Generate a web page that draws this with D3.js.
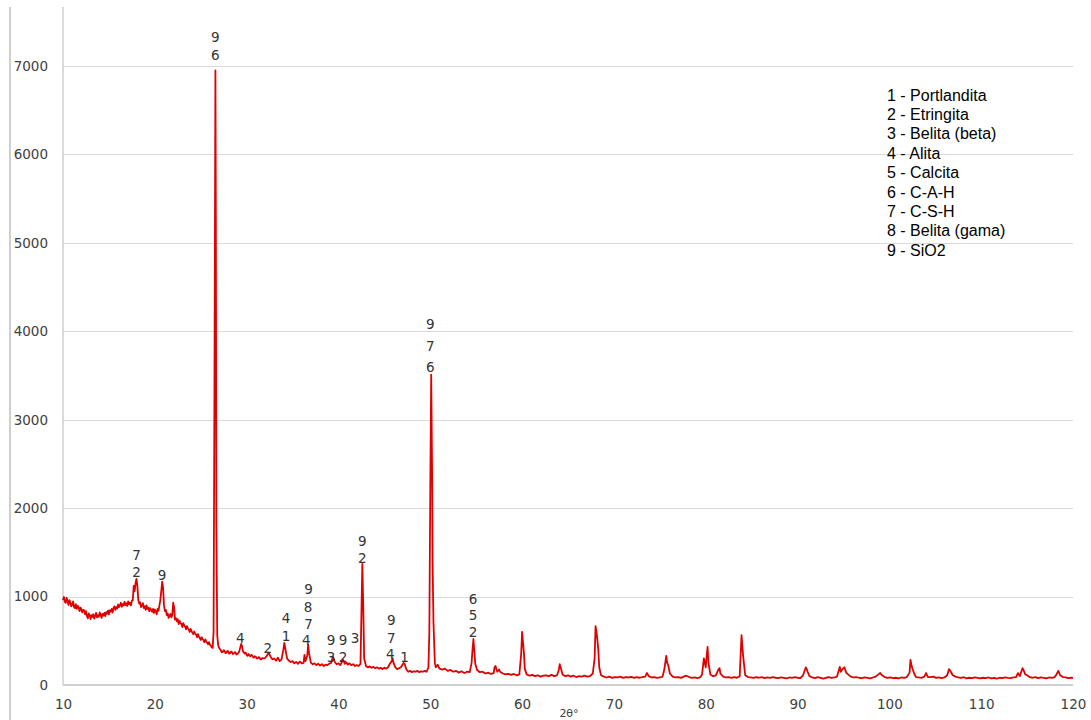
<!DOCTYPE html>
<html>
<head>
<meta charset="utf-8">
<script src="https://cdn.jsdelivr.net/npm/d3@7"></script>
<style>
html,body{margin:0;padding:0;background:#fff;}
svg{display:block;}
</style>
</head>
<body>
<svg id="chart" width="1091" height="720"></svg>
<script>
// ---- data ----
const xTicks = [10,20,30,40,50,60,70,80,90,100,110,120];
const yTicks = [0,1000,2000,3000,4000,5000,6000,7000];
const xTitle = "2θ°";
const legendItems = ["1 - Portlandita","2 - Etringita","3 - Belita (beta)","4 - Alita","5 - Calcita","6 - C-A-H","7 - C-S-H","8 - Belita (gama)","9 - SiO2"];

const xrdSegA = [[10.0,960],[10.1,995],[10.2,940],[10.3,930],[10.4,985],[10.5,950],[10.6,905],[10.7,960],[10.8,935],[10.9,890],[11.0,905],[11.1,945],[11.2,880],[11.3,870],[11.4,915],[11.5,860],[11.6,895],[11.7,880],[11.8,835],[11.9,875],[12.0,860],[12.1,820],[12.2,850],[12.3,845],[12.4,800],[12.5,835],[12.6,780],[12.7,755],[12.8,810],[12.9,790],[13.0,745],[13.1,790],[13.2,770],[13.3,800],[13.4,750],[13.5,785],[13.6,815],[13.7,765],[13.8,790],[13.9,770],[14.0,820],[14.1,790],[14.2,760],[14.3,805],[14.4,785],[14.5,815],[14.6,780],[14.7,825],[14.8,805],[14.9,840],[15.0,800],[15.1,845],[15.2,830],[15.3,860],[15.4,820],[15.5,870],[15.6,890],[15.7,850],[15.8,880],[15.9,865],[16.0,910],[16.1,880],[16.2,900],[16.3,930],[16.4,885],[16.5,915],[16.6,900],[16.7,940],[16.8,905],[16.9,925],[17.0,895],[17.1,945],[17.2,915],[17.3,930],[17.4,900],[17.5,955],[17.6,960],[17.7,1120],[17.8,1060],[17.9,1150],[18.0,1200],[18.1,1120],[18.2,960],[18.3,920],[18.4,935],[18.5,880],[18.6,900],[18.7,925],[18.8,870],[18.9,890],[19.0,850],[19.1,900],[19.2,860],[19.3,875],[19.4,835],[19.5,870],[19.6,850],[19.7,830],[19.8,860],[19.9,815],[20.0,855],[20.1,835],[20.2,800],[20.3,860],[20.4,840],[20.5,900],[20.6,960],[20.7,1060],[20.8,1170],[20.9,1100],[21.0,900],[21.1,835],[21.2,850],[21.3,790],[21.4,810],[21.5,760],[21.6,780],[21.7,805],[21.8,765],[21.9,790],[22.0,930],[22.1,880],[22.2,740],[22.3,755],[22.4,720],[22.5,745],[22.6,690],[22.7,725],[22.8,700],[22.9,690],[23.0,655],[23.1,700],[23.2,675],[23.3,660],[23.4,630],[23.5,665],[23.6,640],[23.7,625],[23.8,600],[23.9,635],[24.0,610],[24.1,590],[24.2,575],[24.3,605],[24.4,580],[24.5,570],[24.6,540],[24.7,575],[24.8,545],[24.9,530],[25.0,510],[25.1,540],[25.2,520],[25.3,505],[25.4,485],[25.5,515],[25.6,490],[25.7,480],[25.8,460],[25.9,485],[26.0,455],[26.1,445],[26.2,425],[26.3,420],[26.4,600],[26.5,3500],[26.6,6950],[26.65,5200],[26.7,1800],[26.8,560],[26.9,450],[27.0,420]];

const xrdSegB = [[27.1,405],[27.2,390],[27.3,370],[27.4,375],[27.5,395],[27.6,385],[27.7,360],[27.8,365],[27.9,385],[28.0,380],[28.1,355],[28.2,360],[28.3,378],[28.4,372],[28.5,350],[28.6,355],[28.7,372],[28.8,365],[28.9,345],[29.0,350],[29.2,380],[29.4,465],[29.5,440],[29.6,380],[29.8,355],[29.9,365],[30.0,340],[30.1,330],[30.2,350],[30.3,335],[30.4,325],[30.5,340],[30.6,335],[30.7,315],[30.8,310],[30.9,325],[31.0,320],[31.1,300],[31.2,300],[31.3,315],[31.4,310],[31.5,290],[31.6,290],[31.7,305],[31.8,300],[32.0,305],[32.2,330],[32.4,365],[32.6,320],[32.8,290],[33.0,300],[33.2,275],[33.4,310],[33.6,270],[33.8,290],[34.0,400],[34.1,475],[34.2,420],[34.4,300],[34.6,275],[34.8,260],[35.0,270],[35.2,245],[35.4,260],[35.6,240],[35.8,265],[36.0,245],[36.2,250],[36.3,340],[36.4,270],[36.6,330],[36.7,455],[36.8,360],[37.0,250],[37.2,235],[37.4,245],[37.6,225],[37.8,240],[38.0,220],[38.2,235],[38.4,215],[38.6,230],[38.8,225],[39.0,240],[39.2,250],[39.4,320],[39.6,260],[39.8,235],[40.0,245],[40.2,225],[40.4,265],[40.5,285],[40.7,240],[40.9,255],[41.0,230],[41.2,245],[41.4,225],[41.6,235],[41.8,215],[42.0,225],[42.2,215],[42.4,240],[42.5,800],[42.6,1370],[42.7,900],[42.8,300],[43.0,215],[43.2,200],[43.4,210],[43.6,195],[43.8,205],[44.0,190],[44.2,200],[44.4,185],[44.6,195],[44.8,180],[45.0,195],[45.2,185],[45.4,200],[45.6,240],[45.8,270],[45.9,300],[46.0,250],[46.2,200],[46.4,180],[46.6,190],[46.8,200],[47.0,235],[47.1,250],[47.2,240],[47.4,175],[47.6,150],[47.8,160],[48.0,145],[48.2,155],[48.4,150],[48.6,160],[48.8,145],[49.0,155],[49.2,150],[49.4,160],[49.6,150],[49.8,200],[49.9,600],[50.0,2200],[50.1,3510],[50.2,2400],[50.25,1400],[50.35,700],[50.5,250]];

const xrdSegC = [[50.6,200],[50.8,230],[51.0,185],[51.3,175],[51.6,185],[51.9,160],[52.2,170],[52.5,150],[52.8,160],[53.1,140],[53.4,155],[53.7,135],[54.0,150],[54.3,145],[54.5,250],[54.6,400],[54.7,520],[54.8,380],[54.9,240],[55.1,170],[55.4,145],[55.7,150],[56.0,130],[56.3,140],[56.6,125],[56.9,135],[57.0,200],[57.1,215],[57.3,150],[57.5,175],[57.6,150],[57.9,130],[58.2,120],[58.5,125],[58.8,115],[59.1,125],[59.4,110],[59.7,120],[59.9,350],[60.0,600],[60.1,480],[60.2,360],[60.3,180],[60.5,120],[60.8,105],[61.1,115],[61.4,100],[61.7,110],[62.0,95],[62.3,105],[62.6,110],[62.9,100],[63.2,115],[63.5,100],[63.8,110],[64.0,170],[64.1,235],[64.2,200],[64.4,120],[64.7,100],[65.0,110],[65.3,95],[65.6,105],[65.9,90],[66.2,100],[66.5,95],[66.8,105],[67.1,95],[67.4,100],[67.7,130],[67.9,300],[68.0,665],[68.1,600],[68.2,510],[68.3,400],[68.4,200],[68.6,110],[68.9,95],[69.2,85],[69.5,95],[69.8,80],[70.1,90],[70.4,85],[70.7,95],[71.0,80],[71.3,90],[71.6,85],[71.9,92],[72.2,80],[72.5,88],[72.8,82],[73.1,90],[73.4,95],[73.6,135],[73.8,100],[74.1,85],[74.4,90],[74.7,80],[75.0,85],[75.3,95],[75.5,180],[75.7,330],[75.8,250],[75.9,230],[76.1,130],[76.4,95],[76.7,85],[77.0,90],[77.3,80],[77.6,95],[77.9,105],[78.2,90],[78.5,80],[78.8,85],[79.1,78],[79.4,88],[79.6,120],[79.8,300],[79.9,250],[80.0,200],[80.1,330],[80.2,430],[80.3,250],[80.5,120],[80.8,100],[81.1,110],[81.4,180],[81.5,190],[81.6,130],[81.9,95],[82.2,85],[82.5,90],[82.8,80],[83.1,88],[83.4,82],[83.7,100],[83.9,565],[84.0,420],[84.1,300],[84.3,110],[84.6,90],[84.9,85]];

const xrdSegD = [[85.2,80],[85.5,88],[85.8,82],[86.1,90],[86.4,78],[86.7,85],[87.0,80],[87.3,88],[87.6,82],[87.9,78],[88.2,85],[88.5,80],[88.8,75],[89.1,85],[89.4,80],[89.7,88],[90.0,82],[90.3,78],[90.6,110],[90.9,200],[91.0,180],[91.1,150],[91.3,100],[91.6,85],[91.9,78],[92.2,88],[92.5,80],[92.8,72],[93.1,82],[93.4,88],[93.7,80],[94.0,85],[94.3,95],[94.6,205],[94.7,150],[94.9,180],[95.1,200],[95.3,140],[95.5,120],[95.8,95],[96.1,85],[96.4,90],[96.7,82],[97.0,78],[97.3,85],[97.6,80],[97.9,75],[98.2,85],[98.5,95],[98.8,120],[99.0,135],[99.2,110],[99.5,90],[99.8,80],[100.1,85],[100.4,78],[100.7,82],[101.0,75],[101.3,85],[101.6,80],[101.9,90],[102.2,140],[102.3,285],[102.4,230],[102.5,190],[102.7,130],[102.9,90],[103.2,85],[103.5,80],[103.8,95],[104.0,135],[104.2,90],[104.5,88],[104.8,95],[105.1,80],[105.4,85],[105.7,78],[106.0,85],[106.3,110],[106.5,180],[106.7,150],[106.9,110],[107.2,95],[107.5,85],[107.8,80],[108.1,88],[108.4,75],[108.7,82],[109.0,78],[109.3,85],[109.6,80],[109.9,75],[110.2,82],[110.5,78],[110.8,85],[111.1,75],[111.4,80],[111.7,72],[112.0,82],[112.3,78],[112.6,85],[112.9,80],[113.2,78],[113.5,85],[113.8,90],[114.0,135],[114.2,100],[114.5,190],[114.6,170],[114.8,120],[115.0,110],[115.3,88],[115.6,82],[115.9,90],[116.2,78],[116.5,85],[116.8,80],[117.1,75],[117.4,85],[117.7,80],[118.0,90],[118.2,120],[118.4,160],[118.6,110],[118.9,90],[119.2,85],[119.5,78],[119.8,82],[120.0,80]];

// peak labels: [2θ, intensity at label centre, text]
const peakLabels = [
  [26.6,7328,"9"],[26.6,7124,"6"],
  [18.0,1470,"7"],[18.0,1278,"2"],
  [20.8,1244,"9"],
  [29.3,531,"4"],
  [32.3,418,"2"],
  [34.3,758,"4"],[34.3,554,"1"],
  [36.75,1086,"9"],[36.7,882,"8"],[36.75,690,"7"],[36.5,509,"4"],
  [39.2,509,"9"],[39.2,317,"3"],
  [40.5,509,"9"],[40.5,317,"2"],
  [41.8,531,"3"],
  [42.6,1628,"9"],[42.6,1436,"2"],
  [45.75,735,"9"],[45.75,531,"7"],[45.65,351,"4"],
  [47.2,317,"1"],
  [50.0,4082,"9"],[50.0,3834,"7"],[50.0,3596,"6"],
  [54.65,973,"6"],[54.65,792,"5"],[54.65,599,"2"]
];

// ---- drawing ----
const svg = d3.select("#chart");
const plotTop = 7, plotBottom = 685, plotLeft = 63, plotRight = 1073;
const x = d3.scaleLinear().domain([10,120]).range([plotLeft, plotRight]);
const y = d3.scaleLinear().domain([0,7000]).range([plotBottom, 66]);

// outer border line on the left
svg.append("line").attr("x1",10).attr("x2",10).attr("y1",plotTop).attr("y2",720)
  .attr("stroke","#cfcfcf").attr("stroke-width",2);

// gridlines
svg.append("g").selectAll("line").data(yTicks.filter(d=>d>0)).join("line")
  .attr("x1",plotLeft).attr("x2",plotRight)
  .attr("y1",d=>Math.round(y(d))+0.5).attr("y2",d=>Math.round(y(d))+0.5)
  .attr("stroke","#d9d9d9").attr("stroke-width",1);

// y axis line
svg.append("line").attr("x1",plotLeft).attr("x2",plotLeft).attr("y1",plotTop).attr("y2",plotBottom)
  .attr("stroke","#cfcfcf").attr("stroke-width",1.5);
// x axis line
svg.append("line").attr("x1",plotLeft).attr("x2",plotRight).attr("y1",plotBottom).attr("y2",plotBottom)
  .attr("stroke","#d0d0d0").attr("stroke-width",2);

// axes via d3 axis (labels only)
const yAxis = d3.axisLeft(y).tickValues(yTicks).tickSize(0).tickPadding(15).tickFormat(d3.format("d"));
const gy = svg.append("g").attr("transform",`translate(${plotLeft},0)`).call(yAxis);
gy.select(".domain").remove();
gy.selectAll("text").attr("font-family","'DejaVu Sans', Verdana, sans-serif").attr("font-size","13.5px").attr("fill","#404040");

const xAxis = d3.axisBottom(x).tickValues(xTicks).tickSize(0).tickPadding(14).tickFormat(d3.format("d"));
const gx = svg.append("g").attr("transform",`translate(0,${plotBottom})`).call(xAxis);
gx.select(".domain").remove();
gx.selectAll("text").attr("font-family","'DejaVu Sans', Verdana, sans-serif").attr("font-size","13.5px").attr("fill","#404040");

svg.append("text").attr("x",569).attr("y",717).attr("text-anchor","middle")
  .attr("font-family","'DejaVu Sans', Verdana, sans-serif").attr("font-size","11px").attr("fill","#404040")
  .text(xTitle);

// data line
const series = [].concat(xrdSegA, xrdSegB, xrdSegC, xrdSegD);
const line = d3.line().x(d=>x(d[0])).y(d=>y(d[1]));
svg.append("path").datum(series).attr("d",line)
  .attr("fill","none").attr("stroke","#e00000").attr("stroke-width",1.8).attr("stroke-linejoin","round");

// peak labels
svg.append("g").selectAll("text").data(peakLabels).join("text")
  .attr("x",d=>x(d[0])).attr("y",d=>y(d[1]))
  .attr("text-anchor","middle").attr("dominant-baseline","central")
  .attr("font-family","'DejaVu Sans', Verdana, sans-serif").attr("font-size","13.5px").attr("fill","#333")
  .text(d=>d[2]);

// legend text block
svg.append("g").selectAll("text").data(legendItems).join("text")
  .attr("x",887).attr("y",(d,i)=>95 + i*19.4)
  .attr("dominant-baseline","central")
  .attr("font-family","'Liberation Sans', Arial, sans-serif").attr("font-size","16px").attr("fill","#000")
  .text(d=>d);
</script>
</body>
</html>
